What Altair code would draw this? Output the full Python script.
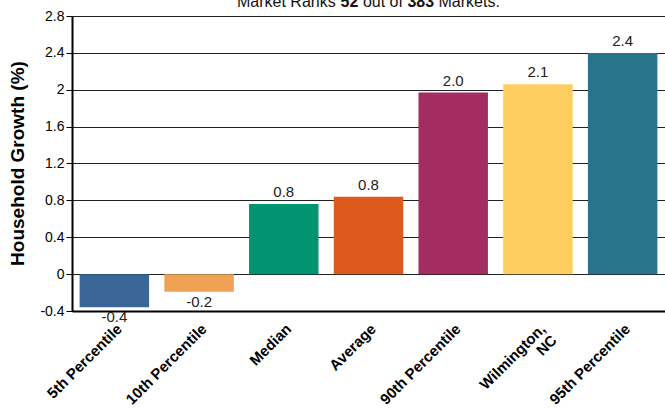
import altair as alt
import pandas as pd

categories = ["5th Percentile", "10th Percentile", "Median", "Average",
              "90th Percentile", "Wilmington, NC", "95th Percentile"]
values = [-0.36, -0.19, 0.76, 0.84, 1.97, 2.06, 2.40]
colors = ["#3A6698", "#EFA253", "#009470", "#DD5A1F", "#A32D61", "#FDCD60", "#28758B"]
y_ticks = [-0.4, 0, 0.4, 0.8, 1.2, 1.6, 2.0, 2.4, 2.8]
title_parts = [("Market Ranks", "normal"), ("52", "bold"), ("out of", "normal"),
               ("383", "bold"), ("Markets.", "normal")]

df = pd.DataFrame({"cat": categories, "v": values})
FONT = "Liberation Sans"

x_enc = alt.X("cat:N", sort=categories,
              scale=alt.Scale(paddingInner=0.18, paddingOuter=0.09),
              axis=alt.Axis(title=None, labelAngle=-45, labelFont=FONT, labelFontSize=15,
                            labelFontWeight="bold", labelColor="#000", ticks=False,
                            domainColor="#000", domainWidth=2, labelPadding=10,
                            labelOverlap=False, labelLineHeight=16,
                            labelExpr="datum.label == 'Wilmington, NC' ? ['Wilmington,', 'NC\u00a0\u00a0\u00a0\u00a0'] : datum.label"))
y_scale = alt.Scale(domain=[-0.4, 2.8], nice=False, zero=False)
y_enc = alt.Y("v:Q", scale=y_scale,
              axis=alt.Axis(title="Household Growth (%)", values=y_ticks, tickCount=20,
                            labelExpr="datum.value < 0 ? '-' + format(-datum.value, '~g') : format(datum.value, '~g')",
                            labelFont=FONT, labelFontSize=14, labelColor="#000",
                            labelOverlap=False, labelFlush=False,
                            tickColor="#000", tickSize=6, labelPadding=2,
                            domainColor="#000", domainWidth=2,
                            grid=True, gridColor="#222", gridWidth=1,
                            titleFont=FONT, titleFontSize=19, titleFontWeight="bold",
                            titleColor="#000", titleX=-55, titleY=147, titleBaseline="middle",
                            titleAlign="center"))

base = alt.Chart(df)
bars = base.mark_bar().encode(
    x=x_enc, y=y_enc,
    y2=alt.datum(0),
    color=alt.Color("cat:N", sort=categories,
                    scale=alt.Scale(domain=categories, range=colors), legend=None),
)
lbl = "datum.v < 0 ? '-' + format(-datum.v, '.1f') : format(datum.v, '.1f')"
pos_text = base.transform_filter("datum.v >= 0").transform_calculate(lab=lbl).mark_text(
    baseline="bottom", dy=-4, font=FONT, fontSize=15, color="#222"
).encode(x=x_enc, y=y_enc, text="lab:N")
neg_text = base.transform_filter("datum.v < 0").transform_calculate(lab=lbl).mark_text(
    baseline="top", dy=3, font=FONT, fontSize=15, color="#222"
).encode(x=x_enc, y=y_enc, text="lab:N")

# title pieces (mixed weights)
title_x = [165, 268.6, 290.9, 335.4, 366.5]
title_layers = []
for (txt, w), xp in zip(title_parts, title_x):
    title_layers.append(
        alt.Chart(pd.DataFrame({"t": [txt]})).mark_text(
            align="left", baseline="alphabetic", font=FONT, fontSize=16,
            fontWeight=w, color="#111"
        ).encode(text="t:N", x=alt.value(xp), y=alt.value(-9))
    )

chart = alt.layer(bars, pos_text, neg_text, *title_layers).properties(
    width=593, height=295,
    autosize=alt.AutoSizeParams(type="none"),
    padding={"left": 72, "top": 16, "right": 0, "bottom": 99},
).configure_view(stroke=None).configure(background="white")

chart.save("out.html", embed_options={"renderer": "svg", "actions": False})
